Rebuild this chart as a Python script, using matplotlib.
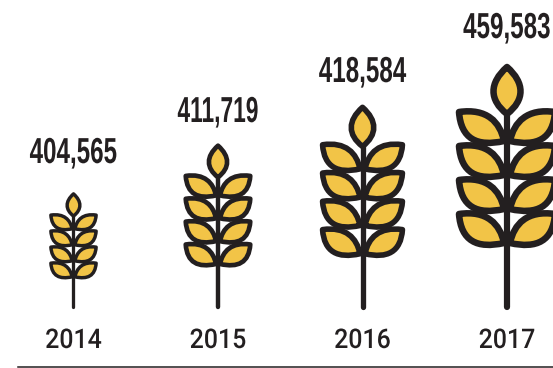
import matplotlib
matplotlib.use("Agg")
import matplotlib.pyplot as plt
from matplotlib.patches import PathPatch
from matplotlib.path import Path
from matplotlib.patheffects import AbstractPathEffect
from matplotlib.text import Text
from matplotlib.transforms import Affine2D, Bbox

years = ["2014", "2015", "2016", "2017"]
production = [404565, 411719, 418584, 459583]

INK = "#231F20"
GOLD = "#F2C447"
W, H = 553, 368


class Condensed(AbstractPathEffect):
    """Squeeze a text run horizontally about its own centre."""

    def __init__(self, factor):
        super().__init__()
        self.factor = factor

    def draw_path(self, renderer, gc, tpath, affine, rgbFace=None):
        box = tpath.get_extents(affine)
        cx = (box.x0 + box.x1) / 2
        squeeze = Affine2D().translate(-cx, 0).scale(self.factor, 1).translate(cx, 0)
        renderer.draw_path(gc, tpath, affine + squeeze, rgbFace)


class NarrowText(Text):
    """Text whose reported extent follows its condensed drawing."""

    def __init__(self, *args, factor=1.0, **kwargs):
        super().__init__(*args, **kwargs)
        self.factor = factor
        self.set_path_effects([Condensed(factor)])

    def get_window_extent(self, renderer=None, dpi=None):
        b = super().get_window_extent(renderer, dpi)
        cx = (b.x0 + b.x1) / 2
        half = b.width * self.factor / 2
        return Bbox.from_extents(cx - half, b.y0, cx + half, b.y1)


CURVED = [Path.MOVETO, Path.CURVE4, Path.CURVE4, Path.CURVE4,
          Path.CURVE4, Path.CURVE4, Path.CURVE4, Path.CLOSEPOLY]


def grain_path():
    return Path(
        [(0, 193), (-18, 207), (-18, 224), (0, 240), (18, 224), (18, 207), (0, 193), (0, 193)],
        CURVED,
    )


def leaf_path(base, side):
    pts = [(3, -4), (7, 15), (20, 29), (48, 25), (46, -2), (30, -10), (3, -4), (3, -4)]
    return Path([(side * x, base + y) for x, y in pts], CURVED)


fig = plt.figure(figsize=(W / 100, H / 100), dpi=100, facecolor="white")
ax = fig.add_axes([0, 0, 1, 1])
ax.set_xlim(-73.5 / 144.5, (W - 73.5) / 144.5)
ax.set_ylim(H, 0)
ax.axis("off")

stalk_heights = [115, 164, 203, 244]
label_y = [153.5, 112.5, 72.5, 28.5]
label_squeeze = [0.67, 0.63, 0.67, 0.67]
GROUND = 307

for i, (year, value) in enumerate(zip(years, production)):
    s = stalk_heights[i] / 244
    x0, y0 = ax.transData.transform((i, GROUND))
    place = Affine2D().scale(s, s).translate(x0, y0)
    lw = 4.7 * s ** 0.85

    ax.add_patch(PathPatch(
        Path([(0, 0), (0, 193)]), fill=False, ec=INK, lw=lw * 0.95, capstyle="round",
        transform=place,
    ))
    shapes = [grain_path()]
    for k in range(4):
        base = 170 - 34 * k
        shapes += [leaf_path(base, -1), leaf_path(base, 1)]
    for p in shapes:
        ax.add_patch(PathPatch(p, fc=GOLD, ec=INK, lw=lw, joinstyle="round", transform=place))

    ax.add_artist(NarrowText(i, label_y[i], f"{value:,}", ha="center", va="center", color=INK,
                             family="Liberation Sans", weight="bold", fontsize=26,
                             factor=label_squeeze[i]))
    ax.add_artist(NarrowText(i, 340.5, year, ha="center", va="center", color=INK,
                             family="Roboto", weight="medium", fontsize=19.5,
                             factor=0.92))

ax.plot([18 / 144.5 - 73.5 / 144.5, (W - 73.5) / 144.5], [366.7, 366.7], color=INK, lw=1.1, clip_on=False)

fig.savefig("out.png", dpi=100)
